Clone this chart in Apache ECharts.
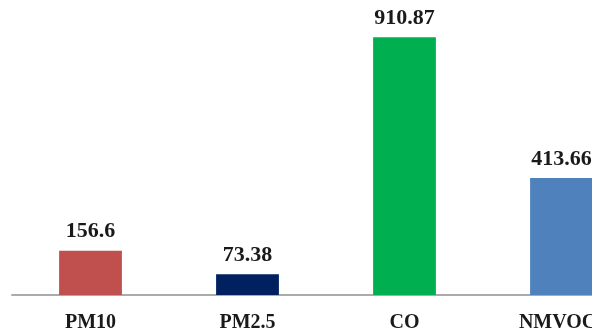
<!DOCTYPE html>
<html>
<head>
<meta charset="utf-8">
<script src="https://cdn.jsdelivr.net/npm/echarts@6/dist/echarts.min.js"></script>
<style>
  html, body { margin: 0; padding: 0; background: #ffffff; overflow: hidden; width: 592px; height: 333px; }
  /* the plot runs past the right edge of the page and is clipped there */
  #chart { width: 640px; height: 333px; }
</style>
</head>
<body>
<div id="chart"></div>
<script>
// Pollutant emissions
const categories = ['PM10', 'PM2.5', 'CO', 'NMVOCs'];
const values = [156.6, 73.38, 910.87, 413.66];
const barColors = ['#C0504D', '#002060', '#00B050', '#4F81BD'];

const chart = echarts.init(document.getElementById('chart'), null, { renderer: 'canvas' });

chart.setOption({
  animation: false,
  backgroundColor: '#ffffff',
  grid: { left: 12, top: 12, right: 0, bottom: 37, containLabel: false },
  xAxis: {
    type: 'category',
    data: categories,
    axisLine: { show: true, lineStyle: { color: '#ababab', width: 2 } },
    axisTick: { show: false },
    axisLabel: {
      margin: 18,
      color: '#1a1a1a',
      fontFamily: 'Liberation Serif, Times New Roman, serif',
      fontWeight: 'bold',
      fontSize: 20
    }
  },
  yAxis: {
    type: 'value',
    min: 0,
    max: 1000,
    show: false,
    splitLine: { show: false }
  },
  series: [{
    type: 'bar',
    barWidth: '40%',
    data: values.map((v, i) => ({ value: v, itemStyle: { color: barColors[i] } })),
    label: {
      show: true,
      position: 'top',
      distance: 8,
      color: '#1a1a1a',
      fontFamily: 'Liberation Serif, Times New Roman, serif',
      fontWeight: 'bold',
      fontSize: 22,
      formatter: p => String(values[p.dataIndex])
    }
  }]
});
</script>
</body>
</html>
